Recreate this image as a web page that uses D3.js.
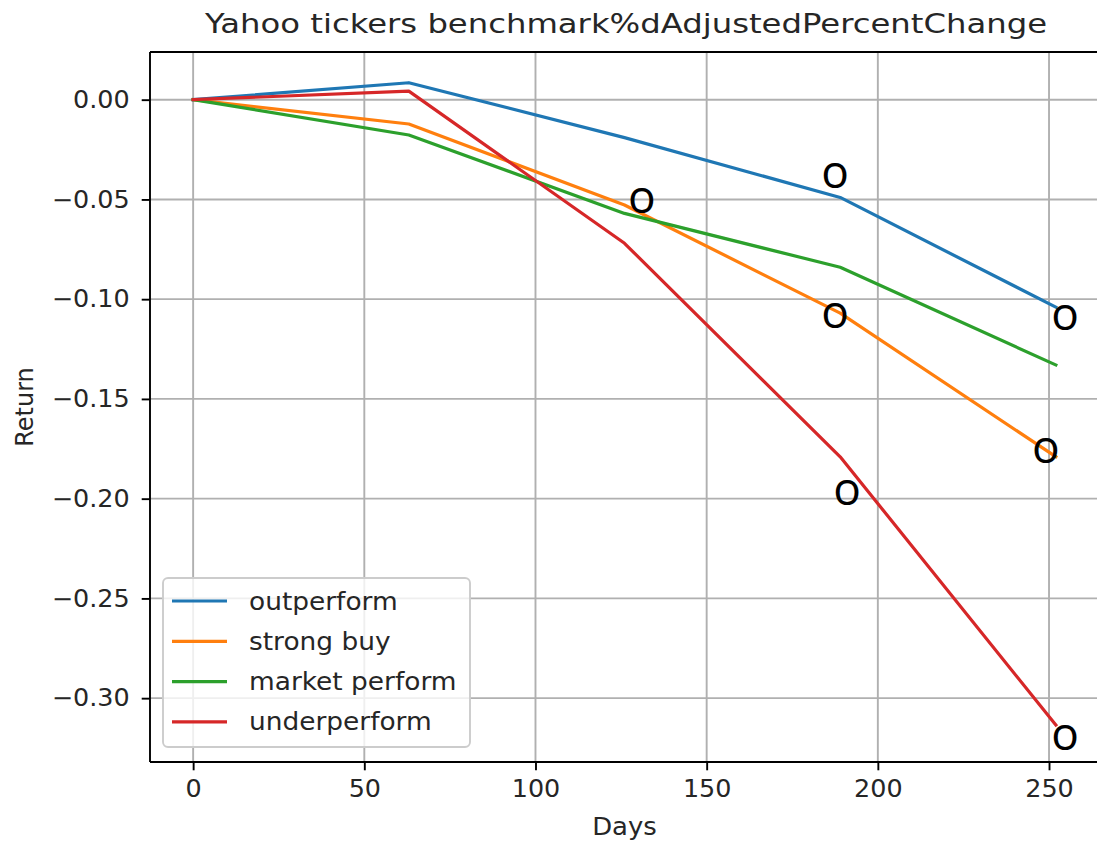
<!DOCTYPE html>
<html>
<head>
<meta charset="utf-8">
<script src="https://cdn.jsdelivr.net/npm/d3@7"></script>
<style>
  html, body { margin: 0; padding: 0; background: #fff; }
  svg { display: block; font-family: "DejaVu Sans", sans-serif; }
</style>
</head>
<body>
<svg id="chart" width="1097" height="841"></svg>
<script>
// ---- data ----
const days = [0, 63, 126, 189, 252];
const seriesNames = ["outperform", "strong buy", "market perform", "underperform"];
const outperform    = [0, 0.0085, -0.019, -0.049, -0.104];
const strongBuy     = [0, -0.0122, -0.0528, -0.107, -0.179];
const marketPerform = [0, -0.0177, -0.057, -0.084, -0.133];
const underperform  = [0, 0.0043, -0.072, -0.179, -0.3135];
const xTicks = [0, 50, 100, 150, 200, 250];
const yTicks = [0.00, -0.05, -0.10, -0.15, -0.20, -0.25, -0.30];
// hand-written "o" marks (day, return)
const markDays    = [131.1, 187.5, 187.5, 254.7, 249.1, 191.0, 254.7];
const markReturns = [-0.0503, -0.0378, -0.1080, -0.1090, -0.1757, -0.1967, -0.3195];

const titleText = "Yahoo tickers benchmark%dAdjustedPercentChange";
const colors = ["#1f77b4", "#ff7f0e", "#2ca02c", "#d62728"];
const allSeries = [outperform, strongBuy, marketPerform, underperform];

// ---- layout ----
const svg = d3.select("#chart");
const pL = 150, pT = 52, pR = 1099, pB = 762;
const x = d3.scaleLinear().domain([-12.6, 264.6]).range([pL, pR]);
const y = d3.scaleLinear().domain([0.0239, -0.332]).range([pT, pB]);

const gridColor = "#b0b0b0";

// grid
const grid = svg.append("g");
grid.selectAll(".vx").data(xTicks).join("line")
  .attr("x1", d => x(d)).attr("x2", d => x(d))
  .attr("y1", pT).attr("y2", pB)
  .attr("stroke", gridColor).attr("stroke-width", 1.9);
grid.selectAll(".hy").data(yTicks).join("line")
  .attr("y1", d => y(d)).attr("y2", d => y(d))
  .attr("x1", pL).attr("x2", pR)
  .attr("stroke", gridColor).attr("stroke-width", 1.9);

// lines
const line = d3.line().x((d, i) => x(days[i])).y(d => y(d));
svg.append("g").selectAll("path").data(allSeries).join("path")
  .attr("d", d => line(d))
  .attr("fill", "none")
  .attr("stroke", (d, i) => colors[i])
  .attr("stroke-width", 3.2)
  .attr("stroke-linejoin", "round")
  .attr("stroke-linecap", "square");

// axes
const fmt = d3.format(".2f");
const xAxis = d3.axisBottom(x).tickValues(xTicks).tickSize(8.3).tickPadding(10).tickFormat(d3.format("d"));
const yAxis = d3.axisLeft(y).tickValues(yTicks).tickSize(8.3).tickPadding(12).tickFormat(fmt);

const gx = svg.append("g").attr("transform", `translate(0,${pB})`).call(xAxis);
const gy = svg.append("g").attr("transform", `translate(${pL},0)`).call(yAxis);
[gx, gy].forEach(g => {
  g.select(".domain").remove();
  g.selectAll(".tick line").attr("stroke", "#000").attr("stroke-width", 1.9);
  g.selectAll(".tick text").attr("fill", "#262626")
    .style("font-family", "DejaVu Sans, sans-serif").style("font-size", "24px");
});
gy.selectAll(".tick text").each(function() {
  const w = this.getComputedTextLength();
  d3.select(this).attr("textLength", w * 1.06).attr("lengthAdjust", "spacingAndGlyphs");
});
gx.selectAll(".tick text").each(function() {
  const w = this.getComputedTextLength();
  d3.select(this).attr("textLength", w * 1.06).attr("lengthAdjust", "spacingAndGlyphs");
});

// spines
[[pL, pT, pL, pB], [pL, pB, pR, pB], [pL, pT, pR, pT], [pR, pT, pR, pB]].forEach(s => {
  svg.append("line").attr("x1", s[0]).attr("y1", s[1]).attr("x2", s[2]).attr("y2", s[3])
    .attr("stroke", "#000").attr("stroke-width", 1.9);
});

// title and labels
svg.append("text").attr("x", 626).attr("y", 33)
  .attr("text-anchor", "middle").attr("fill", "#262626")
  .attr("textLength", 842).attr("lengthAdjust", "spacingAndGlyphs")
  .style("font-size", "26px").text(titleText);
const daysLbl = svg.append("text").attr("x", (pL + pR) / 2).attr("y", 835)
  .attr("text-anchor", "middle").attr("fill", "#262626")
  .style("font-size", "24px").text("Days");
daysLbl.attr("textLength", daysLbl.node().getComputedTextLength() * 1.08).attr("lengthAdjust", "spacingAndGlyphs");
svg.append("text").attr("transform", `translate(33,${(pT + pB) / 2}) rotate(-90)`)
  .attr("text-anchor", "middle").attr("fill", "#262626")
  .style("font-size", "24px").text("Return");

// legend
const lg = svg.append("g");
lg.append("rect").attr("x", 163).attr("y", 578).attr("width", 307).attr("height", 169)
  .attr("rx", 5).attr("fill", "rgba(255,255,255,0.8)").attr("stroke", "#cccccc").attr("stroke-width", 1.9);
const items = lg.selectAll("g.item").data(seriesNames).join("g")
  .attr("transform", (d, i) => `translate(0,${601 + i * 40.3})`);
items.append("line").attr("x1", 172).attr("x2", 227).attr("y1", 0).attr("y2", 0)
  .attr("stroke", (d, i) => colors[i]).attr("stroke-width", 3.2);
items.append("text").attr("x", 249).attr("y", 8.5).attr("fill", "#262626")
  .style("font-size", "24px").text(d => d)
  .each(function() {
    const w = this.getComputedTextLength();
    d3.select(this).attr("textLength", w * 1.1).attr("lengthAdjust", "spacingAndGlyphs");
  });

// "o" marks
svg.append("g").selectAll("text").data(markDays).join("text")
  .attr("x", d => x(d))
  .attr("y", (d, i) => y(markReturns[i]) + 12.5)
  .attr("text-anchor", "middle")
  .attr("fill", "#000")
  .style("font-family", "Open Sans, sans-serif")
  .style("font-size", "46px")
  .text("o");
</script>
</body>
</html>
